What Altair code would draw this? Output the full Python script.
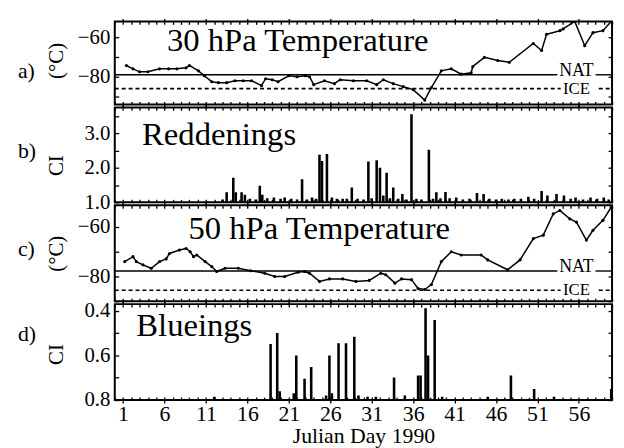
import altair as alt
import pandas as pd

FONT = "Liberation Serif"

# ---------------- data ----------------
# a) 30 hPa temperature (deg C) vs Julian day
days_a = [1.4, 2.2, 3.0, 4.0, 5.4, 6.5, 7.5, 8.6, 9.0, 10.1, 10.8, 11.7, 12.5, 13.5, 14.5,
          15.5, 16.5, 17.7, 18.2, 19.0, 19.7, 21.0, 22.0, 23.0, 23.5, 24.0, 25.3, 26.5, 27.2,
          28.8, 30.4, 31.6, 32.4, 33.6, 34.8, 36.0, 37.4, 38.2, 39.4, 40.6, 41.8, 43.0, 43.2,
          44.6, 46.2, 47.6, 50.5, 51.5, 52.1, 53.7, 54.1, 55.5, 56.7, 57.7, 58.9, 59.9]
temp_a = [-74.3, -76.0, -77.5, -77.5, -76.0, -76.0, -76.0, -75.5, -74.3, -77.0, -79.5, -82.5,
          -83.0, -83.0, -82.0, -82.0, -82.0, -84.5, -81.0, -81.5, -82.5, -79.5, -80.0, -79.5,
          -80.0, -84.0, -82.0, -83.5, -81.5, -82.0, -82.0, -84.0, -81.5, -83.5, -85.0, -86.5,
          -91.8, -85.5, -77.0, -76.0, -78.7, -78.0, -74.8, -70.2, -71.8, -72.7, -63.2, -66.7,
          -58.5, -56.7, -55.8, -52.0, -64.3, -57.7, -56.7, -52.0]

# b) reddenings, colour index
days_b = [13.0, 13.5, 14.3, 14.6, 15.3, 15.7, 16.3, 17.0, 17.5, 17.8, 18.4, 19.2, 20.0, 20.5,
          21.3, 22.0, 22.6, 23.2, 23.8, 24.3, 24.7, 25.0, 25.6, 26.2, 26.8, 27.5, 28.0, 28.6,
          29.3, 30.0, 30.6, 31.0, 31.6, 32.0, 32.4, 32.8, 33.2, 33.6, 34.2, 34.7, 35.2, 35.8,
          36.4, 37.0, 37.9, 38.4, 38.8, 39.3, 39.9, 40.4, 41.2, 42.0, 42.8, 43.7, 44.5, 45.2,
          46.0, 46.7, 47.5, 48.2, 49.0, 49.9, 50.6, 51.5, 52.2, 53.3, 54.2, 55.0, 55.6, 56.5,
          57.4, 58.2, 59.0, 59.6]
ci_b = [1.08, 1.29, 1.71, 1.29, 1.29, 1.22, 1.10, 1.08, 1.48, 1.22, 1.12, 1.14, 1.10, 1.14,
        1.10, 1.08, 1.67, 1.08, 1.14, 1.10, 2.38, 2.20, 2.40, 1.14, 1.10, 1.10, 1.10, 1.43,
        1.10, 1.08, 2.18, 1.12, 2.22, 2.00, 1.20, 1.86, 1.12, 1.43, 1.10, 1.24, 1.08, 3.55,
        1.10, 1.08, 2.52, 1.10, 1.29, 1.12, 1.30, 1.12, 1.14, 1.08, 1.10, 1.27, 1.24, 1.10,
        1.08, 1.10, 1.08, 1.10, 1.10, 1.16, 1.10, 1.33, 1.20, 1.24, 1.20, 1.10, 1.14, 1.08,
        1.14, 1.10, 1.14, 1.08]

# c) 50 hPa temperature
days_c = [1.2, 2.2, 2.6, 3.4, 4.4, 5.4, 6.2, 6.6, 7.8, 8.6, 9.1, 9.5, 9.9, 10.9, 11.7, 12.3,
          13.3, 14.9, 16.4, 18.1, 19.3, 20.5, 22.1, 22.9, 23.5, 24.7, 25.9, 27.5, 29.1, 30.7,
          32.1, 32.7, 33.8, 34.6, 35.8, 36.6, 37.4, 38.2, 39.4, 40.6, 41.8, 44.2, 45.0, 47.4,
          48.9, 50.5, 51.7, 52.9, 53.7, 54.9, 55.7, 56.9, 57.7, 58.9, 59.9]
temp_c = [-74.0, -72.0, -74.0, -75.3, -76.7, -74.0, -72.9, -70.7, -69.3, -68.7, -70.0, -72.0,
          -71.3, -74.0, -76.0, -78.0, -76.7, -76.7, -77.7, -78.7, -80.0, -80.0, -78.3, -78.0,
          -78.7, -82.0, -81.0, -81.0, -82.0, -81.6, -78.7, -79.3, -82.7, -81.0, -81.3, -84.9,
          -85.3, -83.3, -74.0, -70.0, -71.3, -71.3, -73.3, -77.3, -73.3, -64.7, -63.3, -54.7,
          -53.3, -56.7, -58.0, -65.3, -61.3, -57.3, -52.0]

# d) blueings, colour index (axis reversed)
days_d = [12.0, 18.8, 19.6, 19.9, 21.6, 21.9, 22.9, 23.7, 25.5, 25.9, 26.2, 27.0, 27.9, 28.9,
          29.4, 30.5, 31.5, 33.7, 35.0, 36.6, 36.9, 37.5, 37.8, 38.6, 39.5, 45.0, 47.8, 50.6,
          53.0, 59.9]
ci_d = [0.785, 0.548, 0.499, 0.760, 0.770, 0.600, 0.704, 0.652, 0.780, 0.600, 0.770, 0.545,
        0.545, 0.516, 0.780, 0.785, 0.785, 0.699, 0.780, 0.690, 0.690, 0.388, 0.600, 0.440,
        0.785, 0.785, 0.690, 0.750, 0.785, 0.750]

# NAT / ICE thresholds (deg C) for the two temperature panels
nat_a, ice_a = -79.0, -86.0
nat_c, ice_c = -77.8, -85.6

# ---------------- helpers ----------------
W = 503
XD = [0, 60]
ALLDAYS = list(range(0, 61))
TICK = {"condition": {"test": "datum.value % 5 === 1", "value": 6}, "value": 3}
TITLE_SIZE = 33


def xs():
    return alt.Scale(domain=XD, nice=False, zero=False)


def bottom_axis(labels=False):
    kw = dict(orient="bottom", values=ALLDAYS, offset=-3, tickSize=TICK, domain=False,
              grid=False, tickColor="black", tickWidth=1.3, title=None, labels=labels)
    if labels:
        kw.update(labelExpr="datum.value % 5 === 1 ? datum.label : ''", labelFont=FONT,
                  labelFontSize=22, labelColor="black", labelPadding=1, labelOverlap=False,
                  labelFlush=False, title="Julian Day 1990", titleFont=FONT,
                  titleFontSize=22, titleFontWeight="normal", titleColor="black",
                  titlePadding=1)
    return alt.Axis(**kw)


def top_axis():
    return alt.Axis(orient="top", values=ALLDAYS, offset=-3, tickSize=TICK, domain=False,
                    grid=False, tickColor="black", tickWidth=1.3, title=None, labels=False)


def left_axis(values, shown, fmt):
    cond = " || ".join(f"abs(datum.value - ({v})) < 1e-6" for v in shown)
    return alt.Axis(orient="left", values=values, offset=-4, tickSize=4, domain=False,
                    grid=False, tickColor="black", tickWidth=1.3, title=None, format=fmt,
                    labelExpr=f"({cond}) ? datum.label : ''", labelFont=FONT,
                    labelFontSize=21, labelColor="black", labelPadding=5, labelOverlap=False,
                    labelFlush=False)


def right_axis(values):
    return alt.Axis(orient="right", values=values, offset=-4, tickSize=4, domain=False,
                    grid=False, tickColor="black", tickWidth=1.3, title=None, labels=False)


def side_text(letter, ytitle, y_letter, y_title):
    df = pd.DataFrame({"t": [letter]})
    letter_layer = alt.Chart(df).mark_text(font=FONT, fontSize=22, align="left",
                                           baseline="middle", color="black").encode(
        x=alt.value(-98), y=alt.value(y_letter), text="t:N")
    df2 = pd.DataFrame({"t": [ytitle]})
    title_layer = alt.Chart(df2).mark_text(font=FONT, fontSize=21, align="center",
                                           baseline="middle", angle=270,
                                           color="black").encode(
        x=alt.value(-58), y=alt.value(y_title), text="t:N")
    return [letter_layer, title_layer]


def temp_panel(days, temps, title, tx, ty, nat, ice, ydom, h, letter, yl, yt,
               nat_gap, ice_gap, lab_x):
    ys = alt.Scale(domain=ydom, nice=False, zero=False)
    yvals = [-90, -80, -70, -60]
    df = pd.DataFrame({"day": days, "temp": temps})
    line = alt.Chart(df).mark_line(color="black", strokeWidth=1.5, clip=True,
                                   point=alt.OverlayMarkDef(color="black", size=10,
                                                            filled=True)).encode(
        x=alt.X("day:Q", scale=xs(), axis=bottom_axis()),
        y=alt.Y("temp:Q", scale=ys, axis=left_axis(yvals, [-60, -80], "d")))
    tdf = pd.DataFrame({"day": [tx], "v": [ty], "t": [title]})
    ttl = alt.Chart(tdf).mark_text(font=FONT, fontSize=TITLE_SIZE, align="left",
                                   baseline="alphabetic", color="black").encode(
        x=alt.X("day:Q", scale=xs(), axis=top_axis()),
        y=alt.Y("v:Q", scale=ys, axis=right_axis(yvals)),
        text="t:N")
    seg_nat = pd.DataFrame({"x0": [0, nat_gap[1]], "x1": [nat_gap[0], 60], "v": [nat, nat]})
    seg_ice = pd.DataFrame({"x0": [0, ice_gap[1]], "x1": [ice_gap[0], 60], "v": [ice, ice]})
    r_nat = alt.Chart(seg_nat).mark_rule(color="black", strokeWidth=1.4).encode(
        x=alt.X("x0:Q", scale=xs(), axis=None), x2="x1:Q",
        y=alt.Y("v:Q", scale=ys, axis=None))
    r_ice = alt.Chart(seg_ice).mark_rule(color="black", strokeWidth=1.6,
                                         strokeDash=[4, 3]).encode(
        x=alt.X("x0:Q", scale=xs(), axis=None), x2="x1:Q",
        y=alt.Y("v:Q", scale=ys, axis=None))
    ldf = pd.DataFrame({"day": [lab_x], "v": [nat], "t": ["NAT"]})
    l_nat = alt.Chart(ldf).mark_text(font=FONT, fontSize=18, align="center",
                                     baseline="alphabetic", dy=1, color="black").encode(
        x=alt.X("day:Q", scale=xs(), axis=None), y=alt.Y("v:Q", scale=ys, axis=None),
        text="t:N")
    idf = pd.DataFrame({"day": [lab_x], "v": [ice], "t": ["ICE"]})
    l_ice = alt.Chart(idf).mark_text(font=FONT, fontSize=17, align="center",
                                     baseline="middle", color="black").encode(
        x=alt.X("day:Q", scale=xs(), axis=None), y=alt.Y("v:Q", scale=ys, axis=None),
        text="t:N")
    layers = [line, ttl, r_nat, r_ice, l_nat, l_ice] + side_text(letter, "(°C)", yl, yt)
    return alt.layer(*layers).properties(width=W, height=h).resolve_axis(
        x="independent", y="independent")


def bar_panel(days, cis, base, title, tx, ty, ydom, yvals, shown, rev, h, letter, yl, yt,
              last=False):
    ys = alt.Scale(domain=ydom, nice=False, zero=False, reverse=rev)
    df = pd.DataFrame({"day": days, "ci": cis, "base": [base] * len(days)})
    bars = alt.Chart(df).mark_rule(color="black", strokeWidth=2.6, clip=True).encode(
        x=alt.X("day:Q", scale=xs(), axis=bottom_axis(labels=last)),
        y=alt.Y("ci:Q", scale=ys, axis=left_axis(yvals, shown, ".1f")),
        y2="base:Q")
    tdf = pd.DataFrame({"day": [tx], "v": [ty], "t": [title]})
    ttl = alt.Chart(tdf).mark_text(font=FONT, fontSize=TITLE_SIZE, align="left",
                                   baseline="alphabetic", color="black").encode(
        x=alt.X("day:Q", scale=xs(), axis=top_axis()),
        y=alt.Y("v:Q", scale=ys, axis=right_axis(yvals)),
        text="t:N")
    layers = [bars, ttl] + side_text(letter, "CI", yl, yt)
    return alt.layer(*layers).properties(width=W, height=h).resolve_axis(
        x="independent", y="independent")


pa = temp_panel(days_a, temp_a, "30 hPa Temperature", 6.3, -67.0, nat_a, ice_a,
                [-94, -52], 84, "a)", 50, 40, (53.4, 58.0), (53.8, 58.4), 55.7)
pb = bar_panel(days_b, ci_b, 1.0, "Reddenings", 3.3, 2.66, [1.0, 3.75],
               [1.0, 1.5, 2.0, 2.5, 3.0, 3.5], [1.0, 2.0, 3.0], False, 96, "b)", 44, 59)
pc = temp_panel(days_c, temp_c, "50 hPa Temperature", 8.9, -64.8, nat_c, ice_c,
                [-90, -51.2], 97, "c)", 44, 49, (53.4, 58.0), (53.8, 58.4), 55.7)
pd_ = bar_panel(days_d, ci_d, 0.8, "Blueings", 2.6, 0.511, [0.369, 0.8],
                [0.4, 0.5, 0.6, 0.7, 0.8], [0.4, 0.6, 0.8], True, 97, "d)", 30, 51,
                last=True)

chart = alt.vconcat(pa, pb, pc, pd_, spacing=3, bounds="flush",
                    padding={"left": 9, "top": 6, "right": 2, "bottom": 0},
                    background="white").configure_view(stroke="black", strokeWidth=2)

chart.save("out.html", embed_options={"renderer": "svg", "actions": False})
